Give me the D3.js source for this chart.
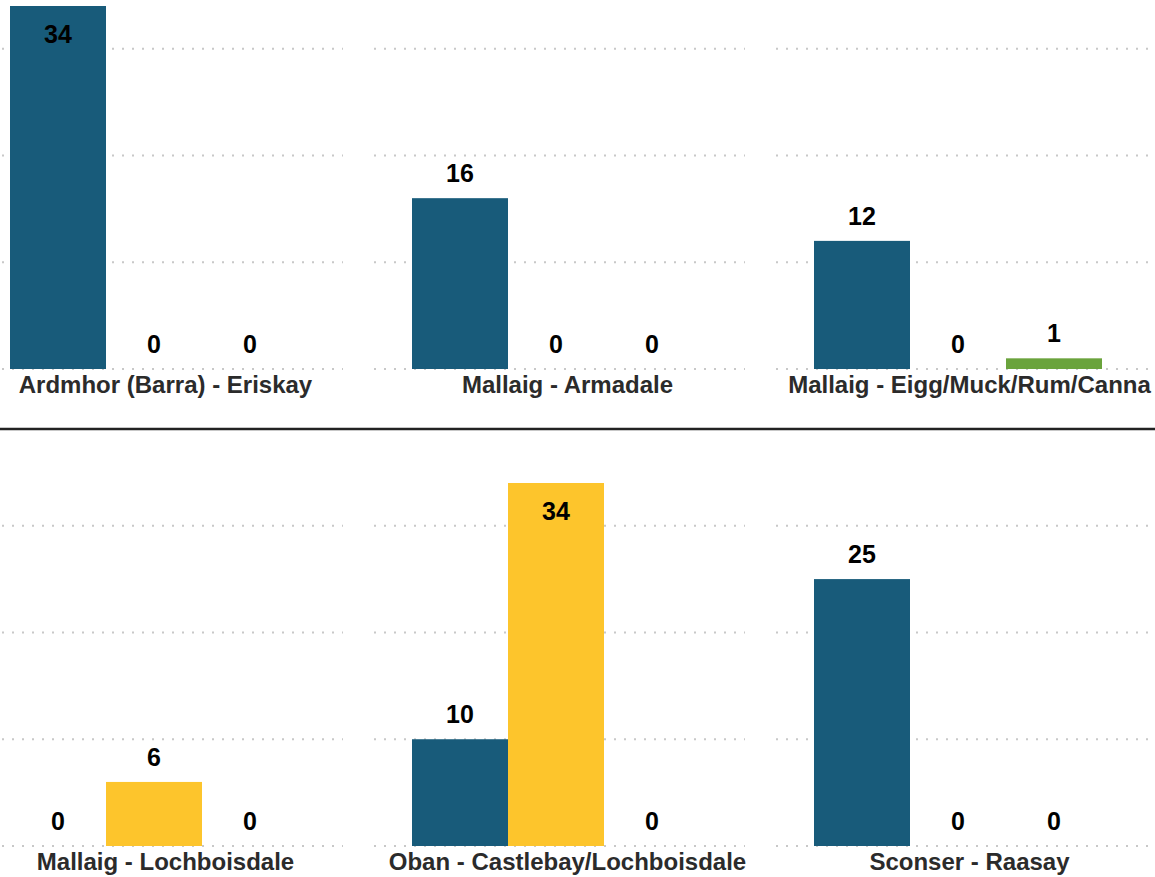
<!DOCTYPE html>
<html>
<head>
<meta charset="utf-8">
<script src="https://cdn.jsdelivr.net/npm/d3@7"></script>
<style>
  html, body { margin: 0; padding: 0; background: #fff; }
  svg { display: block; font-family: "Liberation Sans", Arial, sans-serif; }
</style>
</head>
<body>
<svg id="chart"></svg>
<script>
// small multiples: one panel per route, three series per panel

const routes = [
  'Ardmhor (Barra) - Eriskay',
  'Mallaig - Armadale',
  'Mallaig - Eigg/Muck/Rum/Canna',
  'Mallaig - Lochboisdale',
  'Oban - Castlebay/Lochboisdale',
  'Sconser - Raasay'
];
const seriesNames = ['Series 1', 'Series 2', 'Series 3'];
const series1Values = [34, 16, 12, 0, 10, 25];
const series2Values = [0, 0, 0, 6, 34, 0];
const series3Values = [0, 0, 1, 0, 0, 0];
const gridTicks = [0, 10, 20, 30];

const width = 1155, height = 877;
const colors = ['#185b7a', '#fdc52c', '#6aa33c'];

const svg = d3.select('#chart')
  .attr('width', width)
  .attr('height', height);

const cols = 3;
const panelStep = 402, panelW = 371, panelX0 = -28;
const rowStep = 477, plotTop = 6, plotH = 363;

const slot = d3.scaleBand()
  .domain(d3.range(seriesNames.length))
  .range([38, 38 + 96 * 3])
  .padding(0);

const y = d3.scaleLinear()
  .domain([0, 34])
  .range([plotH, 0]);

const allSeries = [series1Values, series2Values, series3Values];

routes.forEach((route, i) => {
  const col = i % cols, row = Math.floor(i / cols);
  const g = svg.append('g')
    .attr('transform', `translate(${panelX0 + col * panelStep},${plotTop + row * rowStep})`);

  // dotted grid
  g.append('g')
    .selectAll('line')
    .data(gridTicks)
    .join('line')
      .attr('x1', 0)
      .attr('x2', col === cols - 1 ? width - (panelX0 + col * panelStep) : panelW)
      .attr('y1', d => y(d))
      .attr('y2', d => y(d))
      .attr('stroke', '#c8c8c8')
      .attr('stroke-width', 2)
      .attr('stroke-dasharray', '2,8');

  const vals = allSeries.map((s, k) => ({ k, v: s[i] }));

  g.append('g')
    .selectAll('rect')
    .data(vals)
    .join('rect')
      .attr('x', d => slot(d.k))
      .attr('width', slot.bandwidth())
      .attr('y', d => y(d.v))
      .attr('height', d => y(0) - y(d.v))
      .attr('fill', d => colors[d.k]);

  g.append('g')
    .selectAll('text')
    .data(vals)
    .join('text')
      .attr('x', d => slot(d.k) + slot.bandwidth() / 2)
      .attr('y', d => d.v / 34 > 0.9 ? y(d.v) + 37 : y(d.v) - 16)
      .attr('text-anchor', 'middle')
      .attr('font-size', 25)
      .attr('font-weight', 'bold')
      .attr('fill', '#000')
      .text(d => d.v);

  g.append('text')
    .attr('x', 193.5)
    .attr('y', plotH + 24)
    .attr('text-anchor', 'middle')
    .attr('font-size', 24)
    .attr('font-weight', 'bold')
    .attr('fill', '#2b2b2b')
    .text(route);
});

// separator between the two rows
svg.append('line')
  .attr('x1', 0).attr('x2', width)
  .attr('y1', 429).attr('y2', 429)
  .attr('stroke', '#222')
  .attr('stroke-width', 2.5);
</script>
</body>
</html>
